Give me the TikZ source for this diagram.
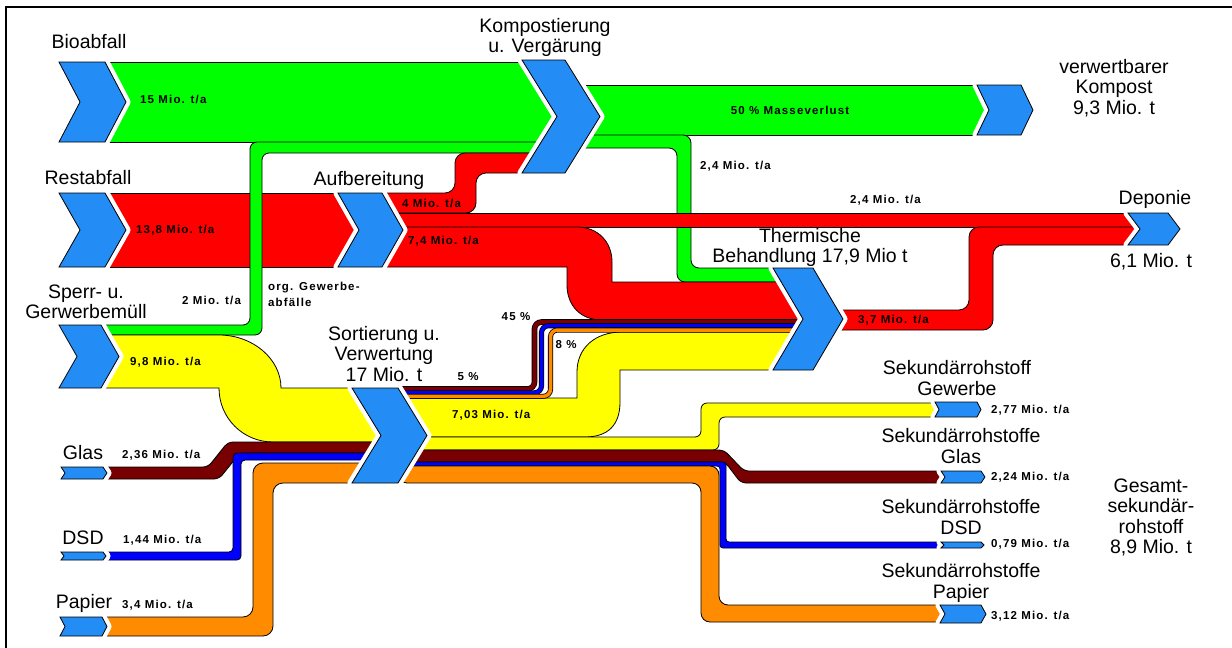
\documentclass[tikz,border=0pt]{standalone}
\usepackage{fontspec}
\setmainfont{Liberation Sans}
\newfontfamily\flowfont[LetterSpace=10]{Liberation Sans}
\usepackage{tikz}

\definecolor{chevblue}{RGB}{35,140,245}
\definecolor{flowgreen}{RGB}{0,255,0}
\definecolor{flowred}{RGB}{255,0,0}
\definecolor{flowyellow}{RGB}{255,255,0}
\definecolor{flowbrown}{RGB}{120,0,0}
\definecolor{flowblue}{RGB}{0,0,255}
\definecolor{floworange}{RGB}{255,140,0}

% x, top, bottom, width, depth
\newcommand\chevron[5]{%
  \draw[chev] (#1,#2) -- ++(#4,0) -- ({#1+#4+#5},{(#2+#3)/2}) -- ({#1+#4},#3)
    -- (#1,#3) -- ({#1+#5},{(#2+#3)/2}) -- cycle;}

\begin{document}
\begin{tikzpicture}[
  x=1pt, y=-1pt,
  chev/.style={fill=chevblue, draw=black, line width=0.8pt,
    preaction={draw=white, line width=9pt, line join=round}},
  band/.style={draw=black, line width=0.8pt},
  strand/.style={line width=#1, rounded corners=7pt,
    preaction={draw=black, line width=#1+1.6pt}},
  lbl/.style={font=\fontsize{19.5}{20.5}\selectfont, align=center, inner sep=0pt},
  val/.style={font=\flowfont\bfseries\fontsize{11.5}{16}\selectfont, inner sep=0pt}
]
\useasboundingbox (0,0) rectangle (1232,648);
\draw[line width=2.5pt] (6,648) -- (6,7) -- (1232,7);

% Restabfall, Bioabfall
\draw[band, fill=flowred] (98,193) rectangle (370,267);
\draw[band, fill=flowgreen] (98,62) rectangle (560,142);
\draw[band, fill=flowgreen, rounded corners=7pt] (95,325) -- (250,325) -- (250,142)
  -- (560,142) -- (560,153) -- (262,153) -- (262,335) -- (95,335) -- cycle;
\draw[band, fill=flowgreen] (561,85) rectangle (995,135);
\draw[band, fill=flowgreen, rounded corners=8pt] (561,135) -- (691,135) -- (691,268)
  -- (806,268) -- (806,282) -- (677,282) -- (677,148) -- (561,148) -- cycle;
\draw[band, fill=flowred, rounded corners=10pt] (378,193) -- (455,193) -- (455,153)
  -- (560,153) -- (560,173) -- (476,173) -- (476,213) -- (378,213) -- cycle;
\draw[band, fill=flowred] (378,213) rectangle (1150,227);
\draw[band, fill=flowred] (378,227) -- (577,227) .. controls (598,227) and (612,242) .. (612,262)
  -- (612,282) -- (806,282) -- (806,320) -- (602,320)
  .. controls (580,320) and (567,305) .. (567,285) -- (567,267) -- (378,267) -- cycle;
\draw[band, fill=flowred, rounded corners=10pt] (810,310) -- (969,310) -- (969,227)
  -- (1150,227) -- (1150,245) -- (993,245) -- (993,330) -- (810,330) -- cycle;

% Sperr- und Gewerbemuell
\draw[band, fill=flowyellow] (90,335) -- (219,335) .. controls (253,335) and (281,359) .. (281,388)
  -- (396,388) -- (396,442) -- (273,442) .. controls (243,442) and (219,418) .. (219,388)
  -- (90,388) -- cycle;
\draw[band, fill=flowyellow] (398,398) -- (577,398) -- (577,372)
  .. controls (577,348) and (595,332) .. (622,332) -- (806,332) -- (806,370) -- (620,370)
  -- (620,402) .. controls (620,425) and (608,437) .. (585,437) -- (398,437) -- cycle;
\draw[band, fill=flowyellow, rounded corners=6pt] (398,437) -- (701,437) -- (701,403)
  -- (945,403) -- (945,417) -- (719,417) -- (719,450) -- (398,450) -- cycle;

% Glas, DSD, Papier
\draw[band, fill=flowbrown, rounded corners=5pt] (95,467) -- (208,467) -- (228,442)
  -- (396,442) -- (396,453) -- (240,453) -- (219,479) -- (95,479) -- cycle;
\draw[band, fill=flowblue, rounded corners=4pt] (95,552) -- (233,552) -- (233,453)
  -- (396,453) -- (396,460) -- (241,460) -- (241,560) -- (95,560) -- cycle;
\draw[band, fill=floworange, rounded corners=10pt] (95,617) -- (253,617) -- (253,463)
  -- (396,463) -- (396,483) -- (273,483) -- (273,636) -- (95,636) -- cycle;
\draw[band, fill=flowbrown, rounded corners=5pt] (398,450) -- (724,450) -- (744,471)
  -- (955,471) -- (955,483) -- (741,483) -- (725,462) -- (398,462) -- cycle;
\draw[band, fill=flowblue, rounded corners=3pt] (398,462) -- (726,462) -- (726,542)
  -- (955,542) -- (955,548) -- (720,548) -- (720,466) -- (398,466) -- cycle;
\draw[band, fill=floworange, rounded corners=9pt] (398,466) -- (719,466) -- (719,605)
  -- (955,605) -- (955,622) -- (701,622) -- (701,483) -- (398,483) -- cycle;

\draw[strand=4pt, flowbrown] (396,389) -- (534.5,389) -- (534.5,322) -- (806,322);
\draw[strand=3.5pt, flowblue] (396,392.8) -- (541.5,392.8) -- (541.5,325.7) -- (806,325.7);
\draw[strand=3.5pt, floworange] (396,396.3) -- (550.5,396.3) -- (550.5,330) -- (806,330);

\chevron{59}{62}{142}{46}{21}
\chevron{59}{193}{267}{46}{21}
\chevron{59}{325}{388}{42}{18}
\chevron{61}{467}{479}{42}{4}
\chevron{61}{552}{560}{42}{3}
\chevron{60}{617}{636}{42}{5}
\chevron{522}{60}{173}{43}{35}
\chevron{338}{193}{267}{44}{21}
\chevron{977}{85}{135}{44}{12}
\chevron{773}{268}{370}{40}{30}
\chevron{1128}{213}{245}{40}{12}
\chevron{352}{388}{483}{46}{29}
\chevron{935}{402}{417}{42}{4}
\chevron{941}{471}{483}{40}{4}
\chevron{941}{542}{548}{40}{3}
\chevron{940}{605}{623}{41}{5}

\node[lbl] (bio) at (89,42) {Bioabfall};
\node[lbl] (komp) at (545,37.5) {Kompostierung\\u. Vergärung};
\node[lbl] (kompost) at (1114,88) {verwertbarer\\Kompost\\9,3 Mio. t};
\node[lbl] (rest) at (88,178) {Restabfall};
\node[lbl] (aufb) at (369,180) {Aufbereitung};
\node[lbl] (dep) at (1155,199) {Deponie};
\node[lbl] (depsum) at (1151,262) {6,1 Mio. t};
\node[lbl] (therm) at (810,247.5) {Thermische\\Behandlung 17,9 Mio t};
\node[lbl] (sperr) at (86,302) {Sperr- u.\\Gerwerbemüll};
\node[lbl] (sort) at (384,354) {Sortierung u.\\Verwertung\\17 Mio. t};
\node[lbl] (sgew) at (957,378) {Sekundärrohstoff\\Gewerbe};
\node[lbl] (sglas) at (961,446) {Sekundärrohstoffe\\Glas};
\node[lbl] (sdsd) at (961,517) {Sekundärrohstoffe\\DSD};
\node[lbl] (spap) at (961,583) {Sekundärrohstoffe\\Papier};
\node[lbl] (gesamt) at (1151,517.5) {Gesamt-\\sekundär-\\rohstoff\\8,9 Mio. t};
\node[lbl] (glas) at (83,453) {Glas};
\node[lbl] (dsd) at (83,538) {DSD};
\node[lbl] (pap) at (84,603) {Papier};

\node[val, anchor=west] (vbio) at (140,99) {15 Mio. t/a};
\node[val, anchor=west] (vrest) at (136,230) {13,8 Mio. t/a};
\node[val, anchor=west] (vsperr) at (130,362) {9,8 Mio. t/a};
\node[val, anchor=west] (vorg) at (182,300) {2 Mio. t/a};
\node[val, anchor=west, align=left] (org) at (268,294) {org. Gewerbe-\\abfälle};
\node[val, anchor=west] (vkomp) at (402,203) {4 Mio. t/a};
\node[val, anchor=west] (vtherm) at (408,241) {7,4 Mio. t/a};
\node[val, anchor=west] (vdep) at (850,200) {2,4 Mio. t/a};
\node[val, anchor=west] (vgrn) at (700,166) {2,4 Mio. t/a};
\node[val] (verlust) at (790,110) {50 \% Masseverlust};
\node[val, anchor=west] (vrest2) at (858,320) {3,7 Mio. t/a};
\node[val] (p45) at (516,317) {45 \%};
\node[val] (p8) at (566,345) {8 \%};
\node[val] (p5) at (468,377) {5 \%};
\node[val, anchor=west] (vsort) at (452,415) {7,03 Mio. t/a};
\node[val, anchor=west] (vglas) at (122,455) {2,36 Mio. t/a};
\node[val, anchor=west] (vdsd) at (123,540) {1,44 Mio. t/a};
\node[val, anchor=west] (vpap) at (122,605) {3,4 Mio. t/a};
\node[val, anchor=west] (ogew) at (991,410) {2,77 Mio. t/a};
\node[val, anchor=west] (oglas) at (991,477) {2,24 Mio. t/a};
\node[val, anchor=west] (odsd) at (991,544) {0,79 Mio. t/a};
\node[val, anchor=west] (opap) at (991,616) {3,12 Mio. t/a};
\end{tikzpicture}
\end{document}
